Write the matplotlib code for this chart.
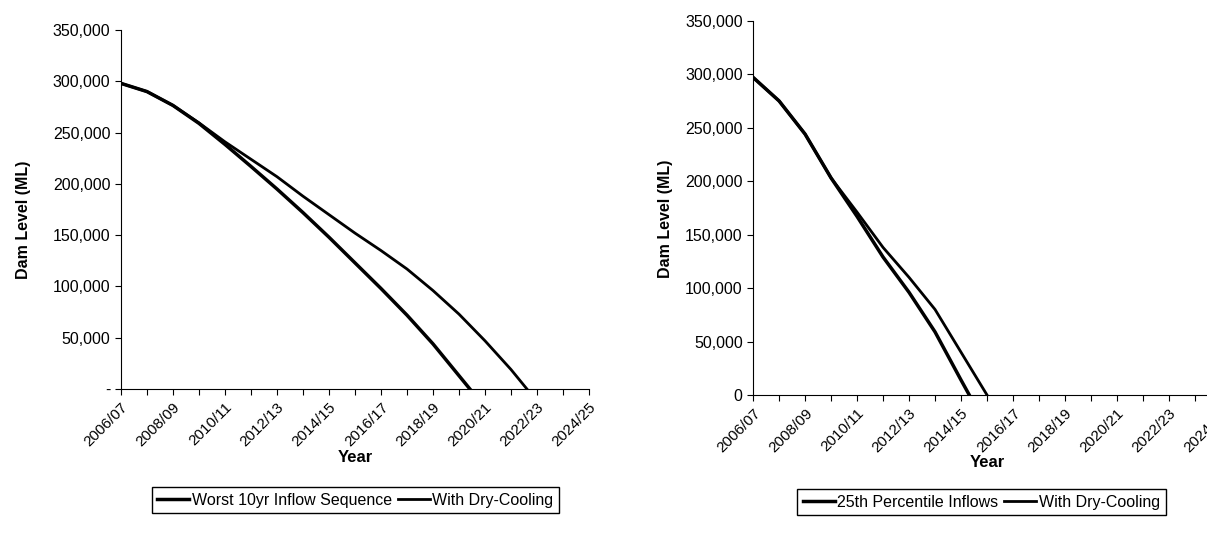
import matplotlib
matplotlib.use('Agg')
import matplotlib.pyplot as plt

plt.rcParams['font.family'] = ['Liberation Sans', 'DejaVu Sans']

# Years (categories)
years = ['2006/07', '2007/08', '2008/09', '2009/10', '2010/11', '2011/12', '2012/13',
         '2013/14', '2014/15', '2015/16', '2016/17', '2017/18', '2018/19', '2019/20',
         '2020/21', '2021/22', '2022/23', '2023/24', '2024/25']

# Left chart: worst 10yr inflow sequence (ML), below 0 is cut off by the axis
worst_10yr = [298000, 290000, 276500, 259000, 238500, 217000, 195000, 172000, 148000,
              123000, 98000, 72000, 44000, 13000, -18000, None, None, None, None]
worst_dry = [298000, 290000, 276500, 259500, 241000, 224000, 207000, 188000, 170000,
             152000, 135000, 117000, 96000, 73000, 47000, 19000, -12000, None, None]

# Right chart: 25th percentile inflows (ML)
pct25 = [297000, 275000, 244000, 203000, 167000, 129000, 96000, 59000, 14000,
         -30000, None, None, None, None, None, None, None, None, None]
pct25_dry = [297000, 275000, 244000, 203000, 171000, 138000, 110000, 80000, 40000,
             0, None, None, None, None, None, None, None, None, None]

y_ticks = [0, 50000, 100000, 150000, 200000, 250000, 300000, 350000]
y_labels_left = ['-', '50,000', '100,000', '150,000', '200,000', '250,000', '300,000', '350,000']
y_labels_right = ['0', '50,000', '100,000', '150,000', '200,000', '250,000', '300,000', '350,000']

# every second year labelled
x_labels = [y if i % 2 == 0 else '' for i, y in enumerate(years)]

fig = plt.figure(figsize=(12.07, 5.4), dpi=100)


def setup(ax, y_labels, ylab_x, xlab_y):
    for s in ['top', 'right']:
        ax.spines[s].set_visible(False)
    ax.set_xlim(0, len(years) - 1)
    ax.set_ylim(0, 350000)
    ax.set_yticks(y_ticks)
    ax.set_yticklabels(y_labels, fontsize=11.5)
    ax.set_xticks(range(len(years)))
    ax.set_xticklabels(x_labels, fontsize=11, rotation=45, ha='right', rotation_mode='anchor')
    ax.tick_params(direction='out', length=4, width=0.8)
    ax.tick_params(axis='x', pad=4)
    ax.set_ylabel('Dam Level (ML)', fontsize=11.5, fontweight='bold')
    ax.set_xlabel('Year', fontsize=12, fontweight='bold')
    ax.yaxis.set_label_coords(ylab_x, 0.47)
    ax.xaxis.set_label_coords(0.5, xlab_y)


# Left chart
ax1 = fig.add_axes([0.1002, 0.2796, 0.3878, 0.6648])
l1, = ax1.plot(range(len(years)), worst_10yr, color='black', lw=2.5)
l2, = ax1.plot(range(len(years)), worst_dry, color='black', lw=2.0)
setup(ax1, y_labels_left, -0.193, -0.17)
fig.legend([l1, l2], ['Worst 10yr Inflow Sequence', 'With Dry-Cooling'], loc='center',
           bbox_to_anchor=(0.2945, 0.074), ncol=2, fontsize=11.5, frameon=True, fancybox=False,
           edgecolor='black', framealpha=1, handlelength=2.0, handletextpad=0.15,
           columnspacing=0.4, borderpad=0.35)

# Right chart (runs past the right edge of the picture)
ax2 = fig.add_axes([0.6239, 0.2685, 0.3877, 0.6932])
r1, = ax2.plot(range(len(years)), pct25, color='black', lw=2.5)
r2, = ax2.plot(range(len(years)), pct25_dry, color='black', lw=2.0)
setup(ax2, y_labels_right, -0.17, -0.16)
fig.legend([r1, r2], ['25th Percentile Inflows', 'With Dry-Cooling'], loc='center',
           bbox_to_anchor=(0.813, 0.07), ncol=2, fontsize=11.5, frameon=True, fancybox=False,
           edgecolor='black', framealpha=1, handlelength=2.0, handletextpad=0.15,
           columnspacing=0.4, borderpad=0.35)

fig.savefig('out.png', dpi=100)
